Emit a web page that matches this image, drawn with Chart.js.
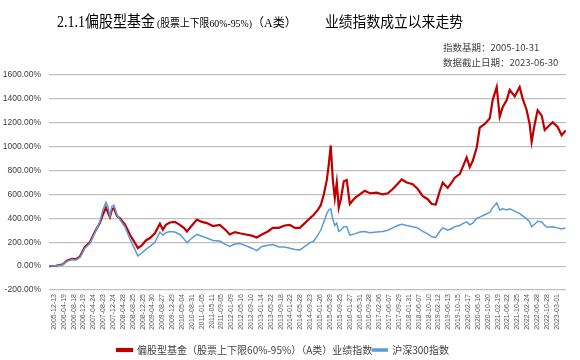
<!DOCTYPE html>
<html>
<head>
<meta charset="utf-8">
<script src="https://cdn.jsdelivr.net/npm/chart.js@4/dist/chart.umd.min.js"></script>
<style>
  html, body { margin: 0; padding: 0; background: #fff; }
  #wrap { width: 580px; height: 360px; position: relative; }
</style>
</head>
<body>
<div id="wrap"><canvas id="myChart" width="580" height="360"></canvas></div>
<script>
// Axis labels shown every 80 trading days
const tickLabels = ['2005-12-13', '2006-04-19', '2006-08-18', '2006-12-19', '2007-04-24', '2007-08-23',
    '2007-12-24', '2008-04-28', '2008-08-25', '2008-12-25', '2009-04-30', '2009-08-27', '2009-12-29',
    '2010-05-04', '2010-08-31', '2011-01-05', '2011-05-11', '2011-09-05', '2012-01-09', '2012-05-16',
    '2012-09-10', '2013-01-14', '2013-05-22', '2013-09-18', '2014-01-22', '2014-05-28', '2014-09-23',
    '2015-01-26', '2015-05-29', '2015-09-25', '2016-01-27', '2016-05-31', '2016-09-28', '2017-02-06',
    '2017-06-07', '2017-09-29', '2018-01-31', '2018-06-07', '2018-10-10', '2019-02-12', '2019-06-13',
    '2019-10-15', '2020-02-17', '2020-06-16', '2020-10-20', '2021-02-19', '2021-06-22', '2021-10-25',
    '2022-02-24', '2022-06-28', '2022-10-28', '2023-03-01'];
const tickStep = 80;

// Trading-day index of each sampled point (0 = 2005-12-13)
const days = [-40, 16, 73, 105, 146, 178, 211, 251, 292, 333, 373, 397, 422, 438, 454, 470, 487, 511, 535,
    576, 616, 657, 681, 714, 746, 779, 819, 860, 884, 908, 941, 981, 1022, 1054, 1079, 1119, 1160, 1200,
    1241, 1290, 1346, 1395, 1427, 1468, 1508, 1557, 1606, 1646, 1687, 1736, 1776, 1825, 1873, 1914, 1955,
    1995, 2036, 2076, 2109, 2141, 2165, 2190, 2214, 2230, 2246, 2263, 2279, 2295, 2311, 2328, 2352, 2376,
    2401, 2441, 2482, 2522, 2563, 2620, 2668, 2709, 2749, 2790, 2822, 2863, 2911, 2952, 2993, 3033, 3066,
    3098, 3130, 3155, 3195, 3228, 3252, 3293, 3325, 3349, 3374, 3398, 3431, 3455, 3496, 3536, 3560, 3593,
    3617, 3641, 3674, 3698, 3739, 3779, 3804, 3836, 3860, 3876, 3901, 3925, 3958, 3982, 4006, 4047, 4087,
    4120, 4152];

// 偏股型基金业绩指数 (%)
const fundIdx = [0, 3, 15, 45, 60, 58, 80, 160, 200, 290, 360, 430, 490, 450, 410, 470, 485, 420, 400,
    350, 265, 195, 150, 175, 215, 235, 275, 355, 305, 345, 365, 370, 345, 320, 290, 340, 390, 370,
    360, 335, 345, 300, 265, 285, 275, 265, 255, 240, 265, 290, 320, 320, 340, 345, 320,
    320, 360, 400, 430, 470, 510, 600, 720, 850, 1010, 720, 570, 700, 490, 560, 710, 720,
    520, 570, 600, 630, 610, 615, 600, 610, 645, 690, 725, 700, 685, 645, 585, 560, 520,
    515, 625, 700, 655, 700, 740, 770, 850, 910, 830, 880, 995, 1160, 1190, 1235, 1390, 1500,
    1250, 1330, 1390, 1475, 1420, 1500, 1400, 1305, 1190, 1040, 1190, 1305, 1260, 1140, 1165, 1205, 1165,
    1095, 1135];

// 沪深300指数 (%)
const hs300Idx = [0, 2, 12, 40, 55, 52, 72, 150, 190, 280, 370, 470, 535, 500, 420, 500, 510, 430, 390,
    330, 230, 140, 85, 110, 140, 165, 200, 285, 260, 280, 290, 285, 265, 230, 195, 235, 265, 250,
    235, 215, 210, 180, 165, 185, 190, 170, 150, 130, 165, 175, 180, 160, 160, 150, 140,
    135, 165, 195, 210, 260, 300, 370, 440, 470, 480, 390, 340, 360, 290, 300, 330, 330,
    260, 270, 285, 290, 280, 285, 290, 300, 320, 340, 350, 340, 330, 320, 290, 270, 245,
    240, 290, 320, 300, 315, 330, 340, 360, 370, 345, 360, 400, 410, 430, 450, 490, 530,
    470, 480, 470, 480, 460, 440, 420, 395, 370, 330, 350, 375, 370, 340, 325, 330, 320,
    310, 320];

const yTicks = [-200, 0, 200, 400, 600, 800, 1000, 1200, 1400, 1600];

const fundName = '偏股型基金（股票上下限60%-95%）（A类）业绩指数';
const hsName = '沪深300指数';

// Title pieces: text, font size, left edge, width in the picture
const titleParts = [
    ['2.1.1偏股型基金', '16px', 57, 98],
    ['(股票上下限60%-95%)', '11px', 157, 95],
    ['（A类）', '12px', 252, 54],
    ['业绩指数成立以来走势', '15px', 325, 138]
];

// Title and notes drawn on the canvas
const headerPlugin = {
    id: 'header',
    afterDraw(c) {
        const ctx = c.ctx;
        ctx.save();
        ctx.fillStyle = '#000';
        ctx.textBaseline = 'alphabetic';
        titleParts.forEach(([txt, size, x, w]) => {
            ctx.font = size + ' "Liberation Serif", "Noto Sans CJK SC", serif';
            ctx.fillText(txt, x, 27, w);
        });

        ctx.fillStyle = '#404040';
        ctx.font = '9.5px "Noto Sans CJK SC", sans-serif';
        ctx.textBaseline = 'middle';
        ctx.fillText('指数基期：2005-10-31', 443, 47);
        ctx.fillText('数据截止日期：2023-06-30', 443, 62);
        ctx.restore();
    }
};

function toPoints(vals) {
    return vals.map((v, i) => ({ x: days[i], y: v }));
}

const ctx = document.getElementById('myChart').getContext('2d');
const chart = new Chart(ctx, {
    type: 'line',
    data: {
        datasets: [{
            label: fundName,
            data: toPoints(fundIdx),
            borderColor: '#C00000',
            backgroundColor: '#C00000',
            borderWidth: 2.2,
            pointRadius: 0,
            order: 1
        }, {
            label: hsName,
            data: toPoints(hs300Idx),
            borderColor: '#5B9BD5',
            backgroundColor: '#5B9BD5',
            borderWidth: 1.5,
            pointRadius: 0,
            order: 0
        }]
    },
    options: {
        responsive: false,
        animation: false,
        layout: { padding: { top: 75, right: 14, bottom: -5, left: 0 } },
        plugins: {
            legend: {
                position: 'bottom',
                labels: {
                    boxWidth: 15,
                    boxHeight: 2,
                    padding: 0,
                    color: '#404040',
                    font: { size: 10, family: '"Noto Sans CJK SC", sans-serif' },
                    sort: (a, b) => a.datasetIndex - b.datasetIndex
                }
            },
            tooltip: { enabled: false }
        },
        scales: {
            x: {
                type: 'linear',
                min: -40,
                max: 4155,
                grid: { display: false, drawTicks: false },
                border: { display: false },
                afterBuildTicks: s => { s.ticks = tickLabels.map((_, k) => ({ value: k * tickStep })); },
                afterFit: s => { s.height = 55; },
                ticks: {
                    autoSkip: false,
                    minRotation: 90,
                    maxRotation: 90,
                    padding: 4,
                    color: '#595959',
                    font: { size: 7, family: '"Liberation Sans", sans-serif' },
                    callback: (v, i) => tickLabels[i]
                }
            },
            y: {
                min: -200,
                max: 1600,
                afterBuildTicks: s => { s.ticks = yTicks.map(v => ({ value: v })); },
                afterFit: s => { s.width = 49; },
                grid: { color: '#BFBFBF', lineWidth: 1.2, drawTicks: false },
                border: { display: false },
                ticks: {
                    padding: 8,
                    color: '#404040',
                    font: { size: 8.5, family: '"Liberation Sans", sans-serif' },
                    callback: v => v.toFixed(2) + '%'
                }
            }
        }
    },
    plugins: [headerPlugin]
});
</script>
</body>
</html>
